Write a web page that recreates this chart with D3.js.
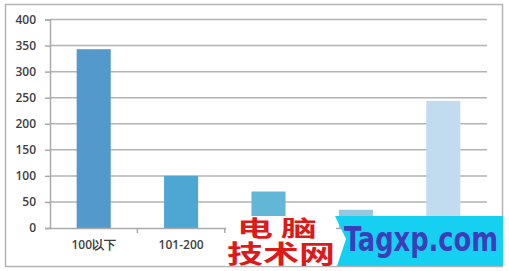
<!DOCTYPE html>
<html><head><meta charset="utf-8">
<script src="https://cdn.jsdelivr.net/npm/d3@7"></script>
<style>body{margin:0;background:#fff}svg{display:block}</style>
</head><body>
<script>
const categories = ["100以下", "101-200", "201-300", "301-400", "400以上"];
// labels of the last three categories are covered by the watermark in the reference
const tickLabels = ["100以下", "101-200", "", "", ""];
const values = [343, 100, 70, 35, 244];
const barColors = ["#5499cb", "#4ea6d3", "#62b6d6", "#95c8de", "#c0dcee"];
const yTicks = [0, 50, 100, 150, 200, 250, 300, 350, 400];

const W = 509, H = 271;
const svg = d3.select("body").append("svg").attr("width", W).attr("height", H);

svg.append("rect").attr("x", 5.5).attr("y", 4.5).attr("width", 497).attr("height", 262)
  .attr("fill", "#fff").attr("stroke", "#b4b4b4").attr("stroke-width", 1.5);

const x = d3.scaleBand().domain(categories).range([50, 487]).paddingInner(0.61).paddingOuter(0.305);
const y = d3.scaleLinear().domain([0, 400]).range([228, 19.5]);

svg.append("g").selectAll("line").data(yTicks.filter(d => d > 0)).join("line")
  .attr("x1", 50).attr("x2", 487).attr("y1", d => y(d)).attr("y2", d => y(d))
  .attr("stroke", "#b3b3b3").attr("stroke-width", 1.5);

svg.append("g").selectAll("rect").data(values).join("rect")
  .attr("x", (d, i) => x(categories[i])).attr("width", x.bandwidth())
  .attr("y", d => y(d)).attr("height", d => y(0) - y(d))
  .attr("fill", (d, i) => barColors[i]);

const yAxis = svg.append("g").attr("transform", "translate(50,0)")
  .call(d3.axisLeft(y).tickValues(yTicks).tickSize(5).tickPadding(9).tickFormat(d3.format("d")));
yAxis.select(".domain").attr("stroke", "#aaa").attr("stroke-width", 1.5);
yAxis.selectAll(".tick line").attr("stroke", "#aaa").attr("stroke-width", 1.5);
yAxis.selectAll("text").attr("font-family", "Open Sans").attr("font-weight", 600).attr("font-size", 12).attr("fill", "#404040");

const xAxis = svg.append("g").attr("transform", `translate(0,${y(0)})`)
  .call(d3.axisBottom(x).tickSize(0).tickPadding(12).tickFormat((d, i) => tickLabels[i]));
xAxis.select(".domain").attr("stroke", "#aaa").attr("stroke-width", 1.5);
xAxis.selectAll("text").attr("font-family", "Open Sans").attr("font-weight", 600).attr("font-size", 12).attr("fill", "#404040");
svg.append("g").selectAll("line").data(categories.slice(1)).join("line")
  .attr("x1", d => x(d) - x.step() * x.paddingInner() / 2).attr("x2", d => x(d) - x.step() * x.paddingInner() / 2)
  .attr("y1", y(0)).attr("y2", y(0) + 5).attr("stroke", "#aaa").attr("stroke-width", 1.5);

// watermark
const wm = svg.append("g");
wm.append("rect").attr("x", 226).attr("y", 216).attr("width", 110).attr("height", 50).attr("fill", "#fff");
wm.append("path").attr("d", "M335,216 L503,216 L503,266 L337,266 L346,239 Z").attr("fill", "#16d0f2");
wm.append("text").attr("x", 237).attr("y", 236).attr("textLength", 80).attr("lengthAdjust", "spacingAndGlyphs")
  .attr("font-family", "Noto Sans CJK SC").attr("font-weight", "bold").attr("font-size", 22)
  .attr("fill", "#dd1a1a").text("电 脑");
wm.append("text").attr("x", 227).attr("y", 263).attr("textLength", 108).attr("lengthAdjust", "spacingAndGlyphs")
  .attr("font-family", "Noto Sans CJK SC").attr("font-weight", "bold").attr("font-size", 25)
  .attr("fill", "#dd1a1a").text("技术网");
wm.append("text").attr("x", 344).attr("y", 251).attr("textLength", 154).attr("lengthAdjust", "spacingAndGlyphs")
  .attr("font-family", "DejaVu Sans Condensed").attr("font-weight", "bold").attr("font-size", 33)
  .attr("fill", "#3b3dbb").text("Tagxp.com");
</script>
</body></html>
